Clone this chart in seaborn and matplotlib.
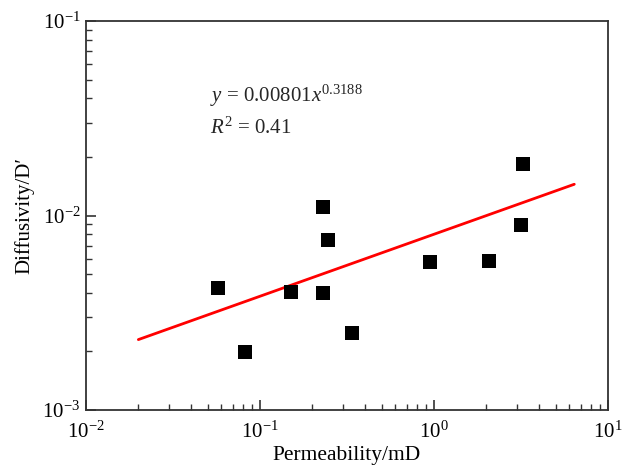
import numpy as np
import pandas as pd
import matplotlib
matplotlib.use("Agg")
import matplotlib.pyplot as plt
import seaborn as sns
from matplotlib.ticker import LogLocator, NullFormatter

# Data
permeability = [0.0574, 0.082, 0.151, 0.230, 0.230, 0.246, 0.338, 0.948, 2.07, 3.24, 3.17]
diffusivity = [0.00424, 0.00199, 0.00405, 0.01107, 0.00399, 0.00748, 0.00249, 0.00577, 0.00584, 0.0184, 0.00893]

# Power-law fit shown on the chart
fit_coef = 0.00801
fit_exp = 0.3188
fit_x = [0.02, 6.4]
fit_y = [fit_coef * v ** fit_exp for v in fit_x]

sns.set_theme(style="white")
plt.rcParams['font.family'] = ['Liberation Serif', 'DejaVu Serif']
plt.rcParams['mathtext.fontset'] = 'custom'
plt.rcParams['mathtext.rm'] = 'Liberation Serif'
plt.rcParams['mathtext.it'] = 'Liberation Serif:italic'
plt.rcParams['mathtext.bf'] = 'Liberation Serif:bold'

fig = plt.figure(figsize=(6.35, 4.71), dpi=100)
ax = fig.add_axes([0.1354, 0.1295, 0.8221, 0.8259])

df = pd.DataFrame({"x": permeability, "y": diffusivity})
fit_df = pd.DataFrame({"x": fit_x, "y": fit_y})

sns.lineplot(data=fit_df, x="x", y="y", color="#ff0000", linewidth=2, ax=ax)
sns.scatterplot(data=df, x="x", y="y", marker="s", s=110, color="black",
                edgecolor="black", linewidth=0, ax=ax, zorder=3)

ax.set_xscale("log")
ax.set_yscale("log")
ax.set_xlim(1e-2, 1e1)
ax.set_ylim(1e-3, 1e-1)

ax.xaxis.set_major_locator(LogLocator(base=10, numticks=10))
ax.yaxis.set_major_locator(LogLocator(base=10, numticks=10))
ax.xaxis.set_minor_locator(LogLocator(base=10, subs=np.arange(2, 10), numticks=20))
ax.yaxis.set_minor_locator(LogLocator(base=10, subs=np.arange(2, 10), numticks=20))
ax.xaxis.set_minor_formatter(NullFormatter())
ax.yaxis.set_minor_formatter(NullFormatter())

ax.tick_params(axis="both", which="major", direction="in", length=7, width=1.2,
               labelsize=15, color="#333333", labelcolor="black",
               top=False, right=False, bottom=True, left=True)
ax.tick_params(axis="x", which="major", pad=8)
ax.tick_params(axis="y", which="major", pad=4)
ax.tick_params(axis="both", which="minor", direction="in", length=4, width=1.0,
               color="#333333", top=False, right=False, bottom=True, left=True)

for side in ["left", "bottom", "top", "right"]:
    ax.spines[side].set_visible(True)
    ax.spines[side].set_color("#333333")
    ax.spines[side].set_linewidth(1.3)

ax.set_xlabel("Permeability/mD", fontsize=15.5, color="black", labelpad=3)
ax.set_ylabel("Diffusivity/D\u2032", fontsize=15, color="black", labelpad=6)

ax.text(0.2375, 0.807, r"$\mathit{y}$ = 0.00801$\mathit{x}^{0.3188}$",
        transform=ax.transAxes, fontsize=15, va="center", ha="left")
ax.text(0.2375, 0.725, r"$\mathit{R}^{2}$ = 0.41",
        transform=ax.transAxes, fontsize=15, va="center", ha="left")

fig.savefig("out.png", dpi=100)
